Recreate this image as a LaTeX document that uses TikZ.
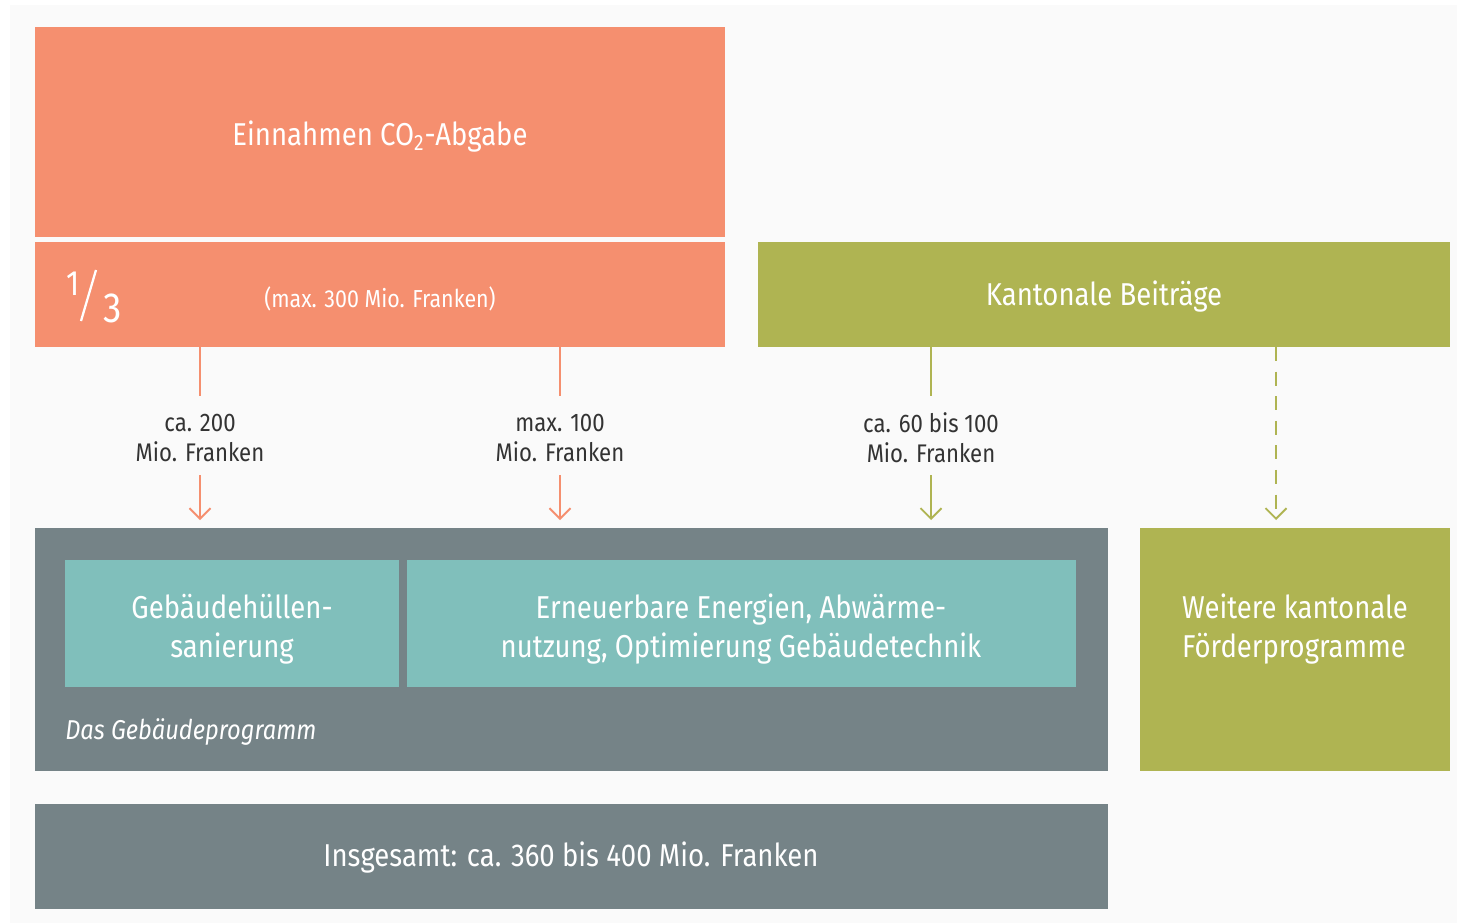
\documentclass[tikz,border=0pt]{standalone}
\usepackage{fontspec}
\setmainfont[FakeStretch=0.87]{Fira Sans}
\usetikzlibrary{arrows.meta,positioning}
\definecolor{orng}{HTML}{F58F6F}
\definecolor{grn}{HTML}{AFB452}
\definecolor{gry}{HTML}{758387}
\definecolor{teal}{HTML}{80BFBB}
\definecolor{bgc}{HTML}{FAFAFA}
\definecolor{txt}{HTML}{333333}
\begin{document}
\begin{tikzpicture}[x=0.02cm,y=-0.02cm,
  box/.style={inner sep=0pt, text=white, align=center, font=\fontsize{18}{22}\selectfont},
  lab/.style={text=txt, align=center, font=\fontsize{14.5}{17}\selectfont, inner sep=4pt},
  flow/.style={line width=1.1pt, shorten >=0.16cm, -{Straight Barb[length=6pt,width=12pt,line width=1.1pt]}},
  line/.style={line width=1.1pt}]
\useasboundingbox (0,0) rectangle (1457,923);
\fill[white] (0,0) rectangle (1457,923);
\fill[bgc] (10,5) rectangle (1457,923);
% boxes
\fill[orng] (35,27) rectangle (725,237);
\node[box] (einn) at (380,137) {Einnahmen CO\textsubscript{2}-Abgabe};
\fill[orng] (35,242) rectangle (725,347);
\coordinate (olow) at (380,347);
\node[box, font=\fontsize{14}{17}\selectfont] (max300) at (380,299) {(max. 300 Mio. Franken)};
\node[text=white, inner sep=0pt, font=\fontsize{20}{20}\selectfont] (one) at (73,284) {1};
\draw[white, line width=1.3pt] (96,270) -- (81,321);
\node[text=white, inner sep=0pt, font=\fontsize{24}{24}\selectfont] (three) at (113,308) {3};
\fill[grn] (758,242) rectangle (1450,347);
\node[box] (kant) at (1104,297) {Kantonale Beiträge};
\fill[gry] (35,528) rectangle (1108,771);
\coordinate (gtop) at (571,528);
\fill[teal] (65,560) rectangle (399,687);
\node[box] (geb) at (232,629) {Gebäudehüllen-\\sanierung};
\fill[teal] (407,560) rectangle (1076,687);
\node[box] (ern) at (741,629) {Erneuerbare Energien, Abwärme-\\nutzung, Optimierung Gebäudetechnik};
\node[text=white, inner sep=0pt, anchor=west, font=\itshape\fontsize{15.5}{18}\selectfont] (dgp) at (65,732) {Das Gebäudeprogramm};
\fill[grn] (1140,528) rectangle (1450,771);
\node[box, align=left] (weit) at (1295,629) {Weitere kantonale\\Förderprogramme};
\coordinate (wtop) at (1276,528);
\fill[gry] (35,804) rectangle (1108,909);
\node[box] (ins) at (571,858) {Insgesamt: ca. 360 bis 400 Mio. Franken};
% labels
\node[lab] (l1) at (200,438) {ca. 200\\Mio. Franken};
\node[lab] (l2) at (560,438) {max. 100\\Mio. Franken};
\node[lab] (l3) at (931,438) {ca. 60 bis 100\\Mio. Franken};
% connectors
\draw[line, orng] (l1 |- olow) -- (200,396);
\draw[flow, orng] (200,475) -- (l1 |- gtop);
\draw[line, orng] (l2 |- olow) -- (560,396);
\draw[flow, orng] (560,475) -- (l2 |- gtop);
\draw[line, grn] (l3 |- olow) -- (931,396);
\draw[flow, grn] (931,475) -- (l3 |- gtop);
\draw[flow, grn, dash pattern=on 8pt off 6pt] (1276,347) -- (wtop);
\end{tikzpicture}
\end{document}
